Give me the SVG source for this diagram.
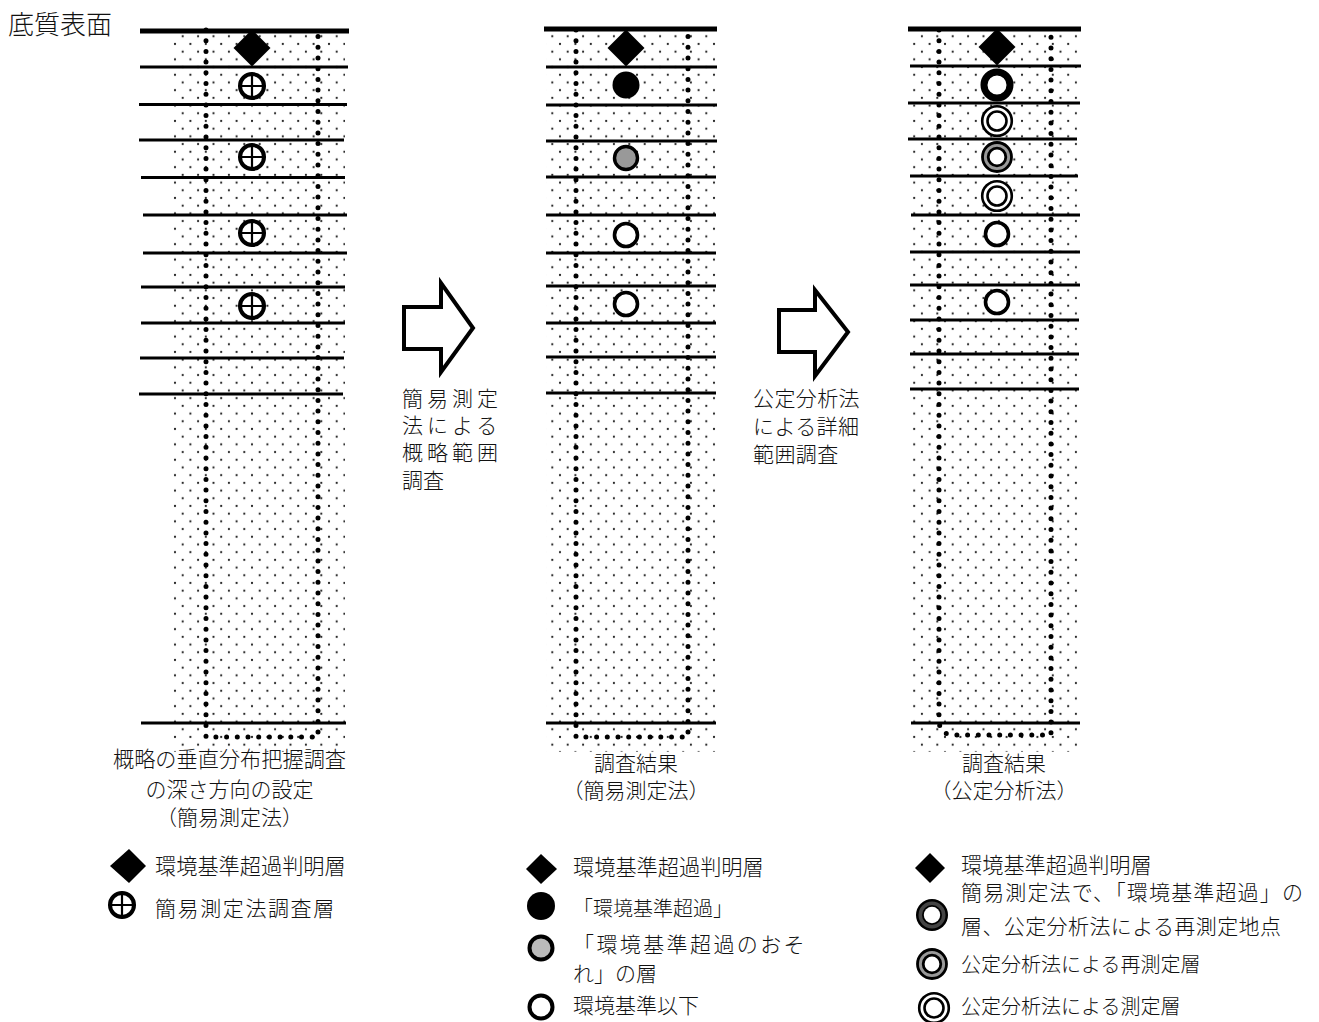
<svg xmlns="http://www.w3.org/2000/svg" width="1319" height="1022" viewBox="0 0 1319 1022">
<style>
text{font-family:"Liberation Serif","Noto Sans CJK JP",serif;font-size:21px;fill:#111;font-weight:300}
.m{text-anchor:middle}
.h{stroke:#000;stroke-width:3;fill:none}
.t{stroke:#000;stroke-width:5;fill:none}
.d{stroke:#000;stroke-width:5;stroke-linecap:round;stroke-dasharray:0 10.7;fill:none}
.o{fill:#fff;stroke:#000;stroke-width:3.6}
.a{fill:#fff;stroke:#000;stroke-width:4}
.s{font-size:20px}
</style>
<defs>
<pattern id="dots" x="175" y="44" width="15.4" height="15.4" patternUnits="userSpaceOnUse">
<circle cx="0" cy="0" r="1.1" fill="#222"/><circle cx="15.4" cy="0" r="1.1" fill="#222"/><circle cx="0" cy="15.4" r="1.1" fill="#222"/><circle cx="15.4" cy="15.4" r="1.1" fill="#222"/>
<circle cx="7.7" cy="7.7" r="1.1" fill="#222"/>
</pattern>
<path id="dia" d="M0-18.5L18.5 0L0 18.5L-18.5 0Z" fill="#000"/>
<g id="plus"><circle r="12" fill="#fff" stroke="#000" stroke-width="4"/><path d="M-13.500 0H13.500M0-13.500V13.500" stroke="#000" stroke-width="2.200"/></g>
<g id="dbl"><circle r="14.800" fill="#fff" stroke="#000" stroke-width="2.600"/><circle r="9.500" fill="#fff" stroke="#000" stroke-width="2.600"/></g>
<g id="thk"><circle r="13" fill="#fff" stroke="#000" stroke-width="7"/></g>
<g id="gry"><circle r="14.500" fill="#999" stroke="#000" stroke-width="2.800"/><circle r="8.800" fill="#fff" stroke="#000" stroke-width="2.800"/></g>
<g id="wht"><circle r="11.500" class="o"/></g>
</defs>

<text x="8" y="34" style="font-size:26px">底質表面</text>

<g id="panel1">
<rect x="173" y="32" width="172" height="720" fill="url(#dots)"/>
<path class="d" d="M206 30V737H318V30"/>
<g class="h"><path class="t" d="M140 31H349"/><path d="M140 67H348M139 104.500H347M139 140H344M141 177.500H345M143 215H347M143 253H347M141 287H345M141 323H345M140 358H344M139 394H343M141 723H346"/></g>
<use href="#dia" x="252" y="48"/><use href="#plus" x="252" y="86"/><use href="#plus" x="252" y="157"/><use href="#plus" x="252" y="233"/><use href="#plus" x="252" y="306"/>
<text class="m" x="229.500" y="767" style="font-size:21.200px">概略の垂直分布把握調査</text><text class="m" x="229.500" y="797">の深さ方向の設定</text><text class="m" x="229.500" y="825">（簡易測定法）</text>
</g>

<g id="panel2">
<rect x="546" y="32" width="171" height="720" fill="url(#dots)"/>
<path class="d" d="M576 30V737H688V30"/>
<g class="h"><path class="t" d="M544 29H717"/><path d="M546 67H717M546 105H717M546 141H717M546 177H716M546 215H716M546 253H716M546 286H716M546 323H716M546 357H716M546 393H716M546 723H716"/></g>
<use href="#dia" x="626" y="48"/><circle cx="626" cy="85" r="13.500" fill="#000"/>
<circle cx="626" cy="158" r="11.500" fill="#999" stroke="#000" stroke-width="3.400"/><use href="#wht" x="626" y="235"/><use href="#wht" x="626" y="304"/>
<text class="m" x="636" y="771">調査結果</text><text class="m" x="636" y="798">（簡易測定法）</text>
</g>

<g id="panel3">
<rect x="910" y="32" width="171" height="720" fill="url(#dots)"/>
<path class="d" d="M939 30V720Q939 735 955 735H1051V30"/>
<g class="h"><path class="t" d="M908 29H1081"/><path d="M910 66H1081M908 103H1080M908 139H1077M910 176H1078M911 215H1080M910 252H1080M910 285H1080M910 320H1079M910 354H1079M910 389H1079M911 723H1080"/></g>
<use href="#dia" x="997" y="47"/><use href="#thk" x="997" y="85"/><use href="#dbl" x="997" y="121"/><use href="#gry" x="997" y="157"/><use href="#dbl" x="997" y="196"/><use href="#wht" x="997" y="234"/><use href="#wht" x="997" y="302"/>
<text class="m" x="1004" y="771">調査結果</text><text class="m" x="1004" y="798">（公定分析法）</text>
</g>

<g id="arrow1">
<path class="a" d="M404 307H441V283L473 328L441 372V349H404Z"/>
<text x="402" y="406" style="letter-spacing:4px">簡易測定</text><text x="402" y="433" style="letter-spacing:4px">法による</text><text x="402" y="460" style="letter-spacing:4px">概略範囲</text><text x="402" y="488">調査</text>
</g>
<g id="arrow2">
<path class="a" d="M779 310H815V290L848 332L815 376V352H779Z"/>
<text x="753" y="406" style="letter-spacing:.4px">公定分析法</text><text x="753" y="434" style="letter-spacing:.4px">による詳細</text><text x="753" y="462" style="letter-spacing:.4px">範囲調査</text>
</g>

<g id="legend1">
<path d="M129 849L146 866L129 883L110 866Z"/><text x="155" y="874" style="font-size:21.200px">環境基準超過判明層</text>
<use href="#plus" x="122" y="905"/><text x="155" y="916" style="letter-spacing:1.600px">簡易測定法調査層</text>
</g>
<g id="legend2">
<path d="M541 854L557 869L541 884L526 869Z"/><text x="573" y="875" style="font-size:21.200px">環境基準超過判明層</text>
<circle cx="541" cy="906" r="14" fill="#000"/><text x="573" y="916" class="s">「環境基準超過」</text>
<circle cx="541" cy="948" r="11.500" fill="#bbb" stroke="#000" stroke-width="4"/><text x="573" y="952" style="letter-spacing:2.400px">「環境基準超過のおそ</text><text x="573" y="981">れ」の層</text>
<circle cx="541" cy="1007" r="11.500" class="o" style="stroke-width:4"/><text x="573" y="1013">環境基準以下</text>
</g>
<g id="legend3">
<path d="M930 853L945 868L930 883L915 868Z"/><text x="961" y="873" style="font-size:21.200px">環境基準超過判明層</text>
<circle cx="932" cy="915" r="16" fill="#000"/><circle cx="932" cy="915" r="13.500" fill="#444"/><circle cx="932" cy="915" r="10" fill="#000"/><circle cx="932" cy="915" r="8.200" fill="#fff"/><text x="961" y="900" style="letter-spacing:1.150px">簡易測定法で、「環境基準超過」の</text><text x="961" y="934" style="letter-spacing:.4px">層、公定分析法による再測定地点</text>
<use href="#gry" x="932" y="964"/><text x="961" y="972" class="s">公定分析法による再測定層</text>
<use href="#dbl" x="934" y="1008"/><text x="961" y="1014" class="s">公定分析法による測定層</text>
</g>
</svg>
